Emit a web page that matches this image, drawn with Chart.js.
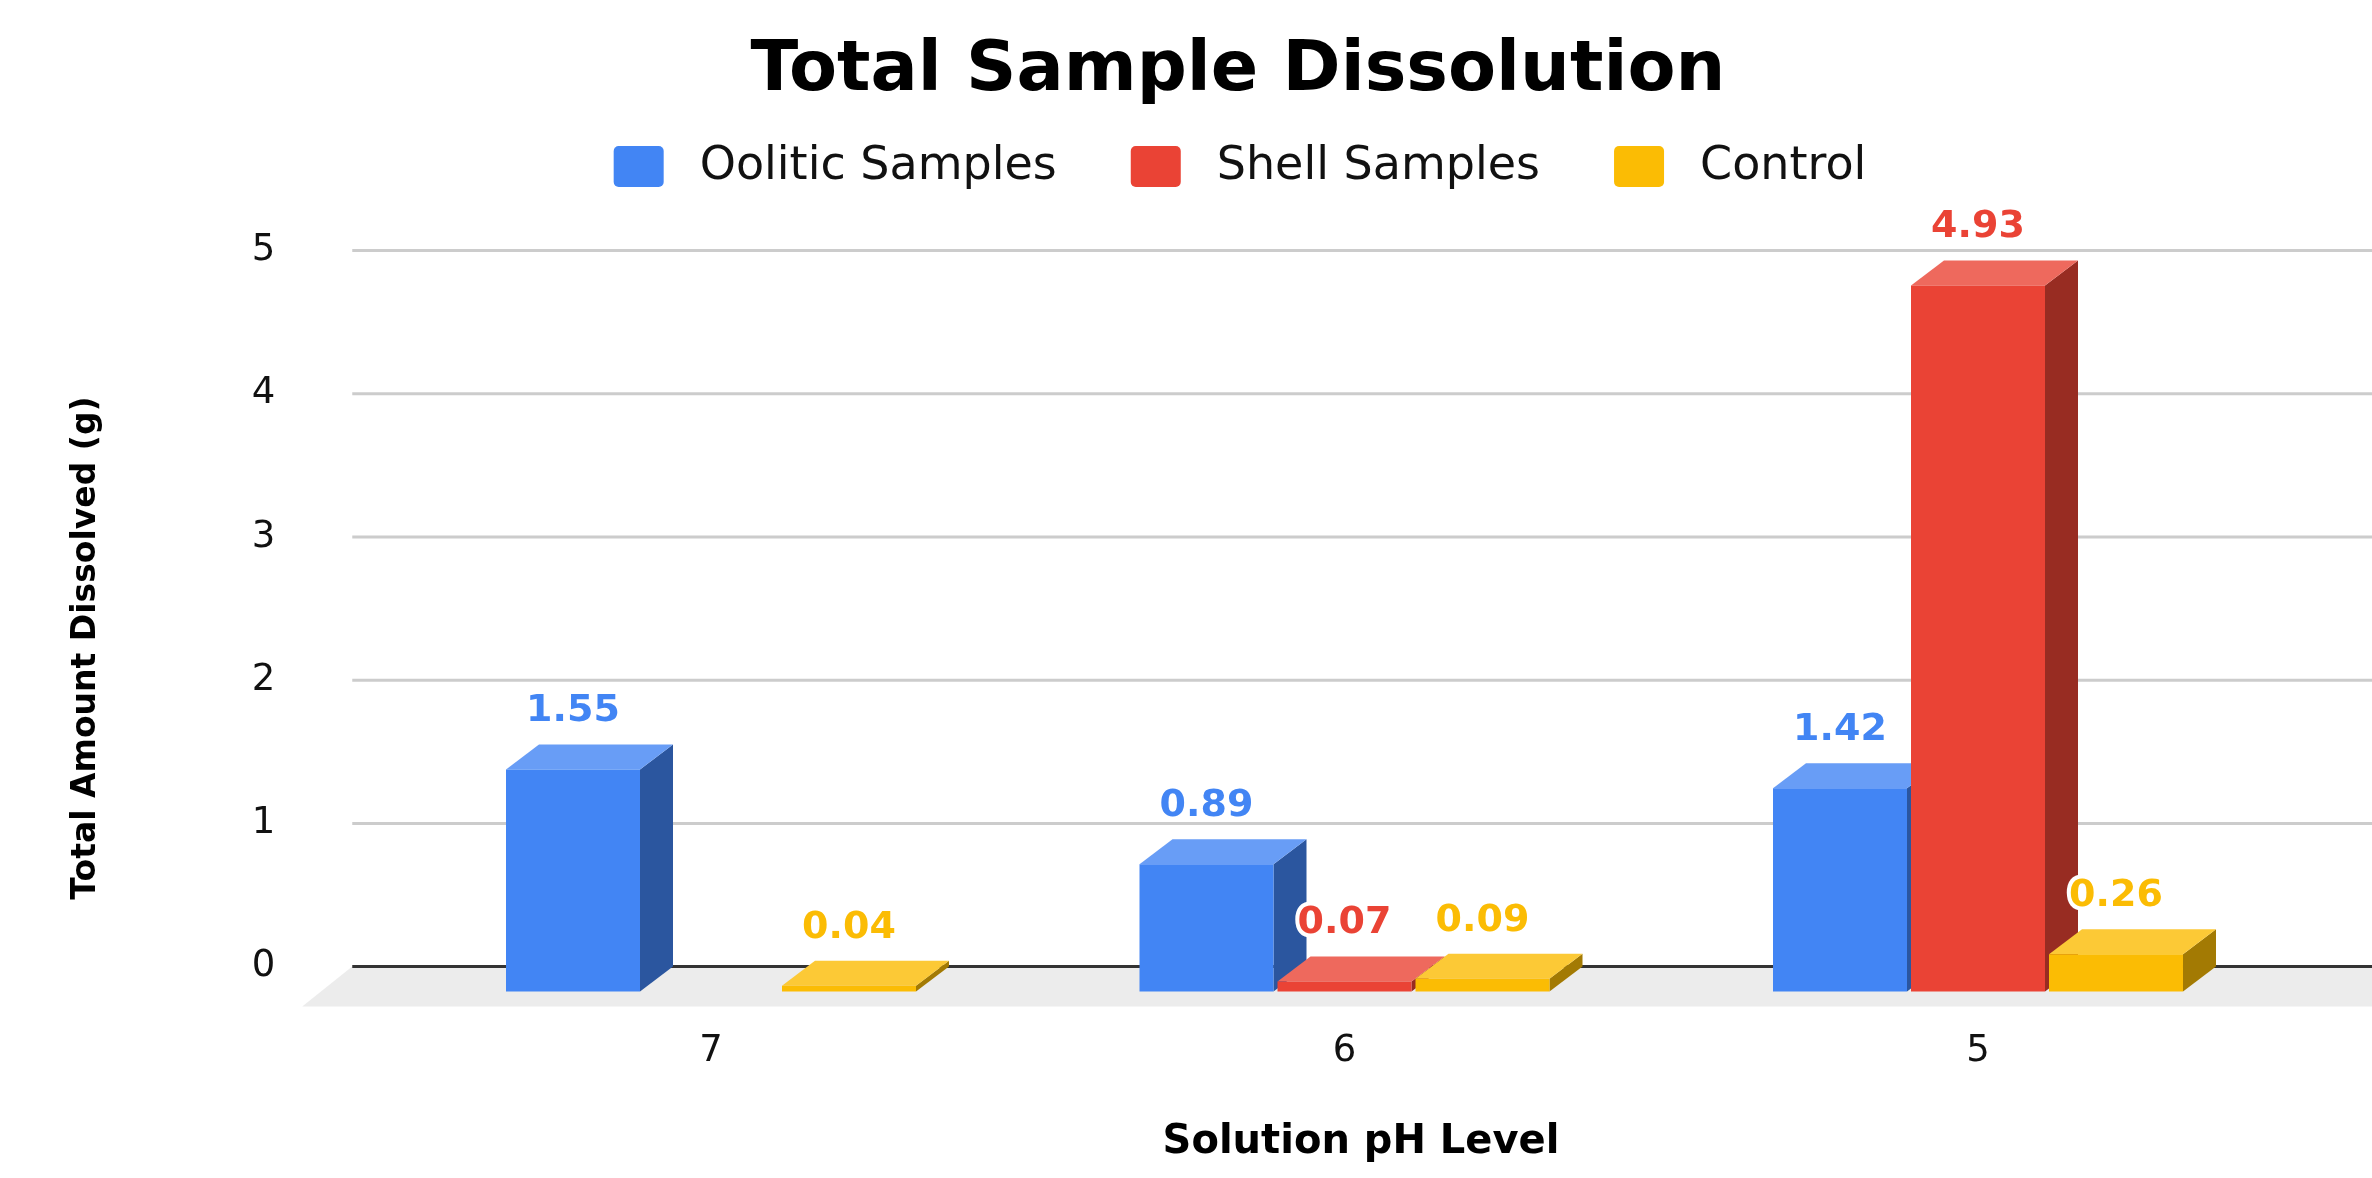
<!DOCTYPE html>
<html>
<head>
<meta charset="utf-8">
<title>Total Sample Dissolution</title>
<script src="https://cdn.jsdelivr.net/npm/chart.js@4/dist/chart.umd.min.js"></script>
<style>
  html, body { margin: 0; padding: 0; background: #ffffff; overflow: hidden; }
  canvas { display: block; }
</style>
</head>
<body>
<canvas id="chart" width="2372" height="1178" style="width:2372px;height:1178px"></canvas>
<script>
// ---- data ----
const categories = ['7', '6', '5'];
const seriesNames = ['Oolitic Samples', 'Shell Samples', 'Control'];
const oolitic = [1.55, 0.89, 1.42];
const shell = [null, 0.07, 4.93];
const control = [0.04, 0.09, 0.26];
const yTickValues = [0, 1, 2, 3, 4, 5];

const chartTitle = 'Total Sample Dissolution';
const xTitle = 'Solution pH Level';
const yTitle = 'Total Amount Dissolved (g)';

// ---- style ----
const FONT = 'DejaVu Sans';
const palette = [
  { front: '#4285F4', top: '#689DF6', side: '#2B569F' },
  { front: '#EA4335', top: '#EE695D', side: '#982C22' },
  { front: '#FBBC04', top: '#FCC936', side: '#A37A03' }
];
const DEPTH_X = 33, DEPTH_Y = 25;     // bar depth (front face is shifted down-left)
const FLOOR_X = 50, FLOOR_Y = 40;     // floor slab depth
const GRID_LEFT_EXTEND = 75;

function polygon(ctx, pts, color) {
  ctx.beginPath();
  ctx.moveTo(pts[0][0], pts[0][1]);
  for (let i = 1; i < pts.length; i++) ctx.lineTo(pts[i][0], pts[i][1]);
  ctx.closePath();
  ctx.fillStyle = color;
  ctx.fill();
}

// Draws the back wall, floor, the 3D faces of the bars, the value labels,
// the legend and the axis titles around the library's own bar rectangles.
const bars3d = {
  id: 'bars3d',
  beforeDraw(chart) {
    const { ctx, width, height } = chart;
    ctx.save();
    ctx.fillStyle = '#ffffff';
    ctx.fillRect(0, 0, width, height);
    ctx.restore();
  },
  beforeDatasetsDraw(chart) {
    const { ctx, chartArea, scales } = chart;
    const y = scales.y;
    const left = chartArea.left - GRID_LEFT_EXTEND;
    const right = chart.width;
    const y0 = y.getPixelForValue(0);

    ctx.save();
    // gridlines on the back wall
    ctx.strokeStyle = '#cccccc';
    ctx.lineWidth = 3;
    y.ticks.forEach(t => {
      if (t.value === 0) return;
      const py = y.getPixelForValue(t.value);
      ctx.beginPath();
      ctx.moveTo(left, py);
      ctx.lineTo(right, py);
      ctx.stroke();
    });
    // floor
    polygon(ctx, [[left, y0], [right, y0], [right, y0 + FLOOR_Y], [left - FLOOR_X, y0 + FLOOR_Y]], '#ececec');
    // baseline
    ctx.strokeStyle = '#333333';
    ctx.lineWidth = 3;
    ctx.beginPath();
    ctx.moveTo(left, y0);
    ctx.lineTo(right, y0);
    ctx.stroke();

    // side and top faces, left to right
    const metas = chart.data.datasets.map((d, i) => chart.getDatasetMeta(i));
    for (let c = 0; c < categories.length; c++) {
      metas.forEach((meta, d) => {
        const v = chart.data.datasets[d].data[c];
        if (v === null || v === undefined) return;
        const el = meta.data[c];
        const p = el.getProps(['x', 'y', 'base', 'width'], true);
        const l = p.x - p.width / 2, r = p.x + p.width / 2;
        const top = Math.min(p.y, p.base), bot = Math.max(p.y, p.base);
        polygon(ctx, [[r - DEPTH_X, top + DEPTH_Y], [r, top], [r, bot], [r - DEPTH_X, bot + DEPTH_Y]], palette[d].side);
        polygon(ctx, [[l - DEPTH_X, top + DEPTH_Y], [l, top], [r, top], [r - DEPTH_X, top + DEPTH_Y]], palette[d].top);
      });
    }
    ctx.restore();

    // front faces are drawn by the library, shifted to the front plane
    ctx.save();
    ctx.translate(-DEPTH_X, DEPTH_Y);
  },
  afterDatasetsDraw(chart) {
    const { ctx } = chart;
    ctx.restore();

    // value labels
    ctx.save();
    ctx.font = `bold 38px "${FONT}"`;
    ctx.textAlign = 'center';
    ctx.textBaseline = 'middle';
    ctx.lineJoin = 'round';
    chart.data.datasets.forEach((ds, d) => {
      const meta = chart.getDatasetMeta(d);
      ds.data.forEach((v, c) => {
        if (v === null || v === undefined) return;
        const p = meta.data[c].getProps(['x', 'y'], true);
        const tx = p.x - DEPTH_X, ty = p.y - 33;
        const txt = v.toFixed(2);
        ctx.strokeStyle = '#ffffff';
        ctx.lineWidth = 8;
        ctx.strokeText(txt, tx, ty);
        ctx.fillStyle = palette[d].front;
        ctx.fillText(txt, tx, ty);
      });
    });
    ctx.restore();
  },
  afterDraw(chart) {
    const { ctx } = chart;
    ctx.save();
    // legend
    ctx.font = `46px "${FONT}"`;
    const boxW = 50, boxH = 41, gap = 36, spacing = 74;
    const items = chart.data.datasets.map((ds, i) => ({ text: ds.label, color: palette[i].front, w: ctx.measureText(ds.label).width }));
    const total = items.reduce((s, it) => s + boxW + gap + it.w, 0) + spacing * (items.length - 1);
    let x = 1240 - total / 2;
    const cy = 166.5;
    items.forEach(it => {
      ctx.fillStyle = it.color;
      ctx.beginPath();
      ctx.roundRect(x, cy - boxH / 2, boxW, boxH, 5);
      ctx.fill();
      ctx.fillStyle = '#111111';
      ctx.textAlign = 'left';
      ctx.textBaseline = 'middle';
      ctx.fillText(it.text, x + boxW + gap, cy + 1);
      x += boxW + gap + it.w + spacing;
    });

    // axis titles
    ctx.fillStyle = '#000000';
    ctx.textAlign = 'center';
    ctx.textBaseline = 'middle';
    ctx.font = `bold 40px "${FONT}"`;
    ctx.fillText(xTitle, 1361, 1143);
    ctx.translate(86, 648);
    ctx.rotate(-Math.PI / 2);
    ctx.font = `bold 33px "${FONT}"`;
    ctx.fillText(yTitle, 0, 0);
    ctx.restore();
  }
};

const seriesValues = [oolitic, shell, control];

new Chart(document.getElementById('chart'), {
  type: 'bar',
  data: {
    labels: categories,
    datasets: seriesValues.map((vals, i) => ({
      label: seriesNames[i],
      data: vals,
      backgroundColor: palette[i].front,
      borderWidth: 0,
      categoryPercentage: 0.6535,
      barPercentage: 0.971,
      clip: false
    }))
  },
  options: {
    responsive: false,
    animation: false,
    devicePixelRatio: 1,
    layout: { padding: { left: 148, right: 44.25, top: 0, bottom: 0 } },
    plugins: {
      legend: { display: false },
      tooltip: { enabled: false },
      title: {
        display: true,
        text: chartTitle,
        color: '#000000',
        font: { family: FONT, size: 70, weight: 'bold', lineHeight: 1.2 },
        padding: { top: 30, bottom: 136.5 }
      }
    },
    scales: {
      x: {
        grid: { display: false, drawTicks: false },
        border: { display: false },
        ticks: { font: { family: FONT, size: 37 }, color: '#111111', padding: 63, labelOffset: -DEPTH_X },
        afterFit(s) { s.height = 211.4; }
      },
      y: {
        min: 0,
        max: 5,
        grid: { display: false, drawTicks: false },
        border: { display: false },
        ticks: { font: { family: FONT, size: 37 }, color: '#111111', padding: 152 },
        afterBuildTicks(s) { s.ticks = yTickValues.map(v => ({ value: v })); },
        afterFit(s) { s.width = 279.25; }
      }
    }
  },
  plugins: [bars3d]
});
</script>
</body>
</html>
